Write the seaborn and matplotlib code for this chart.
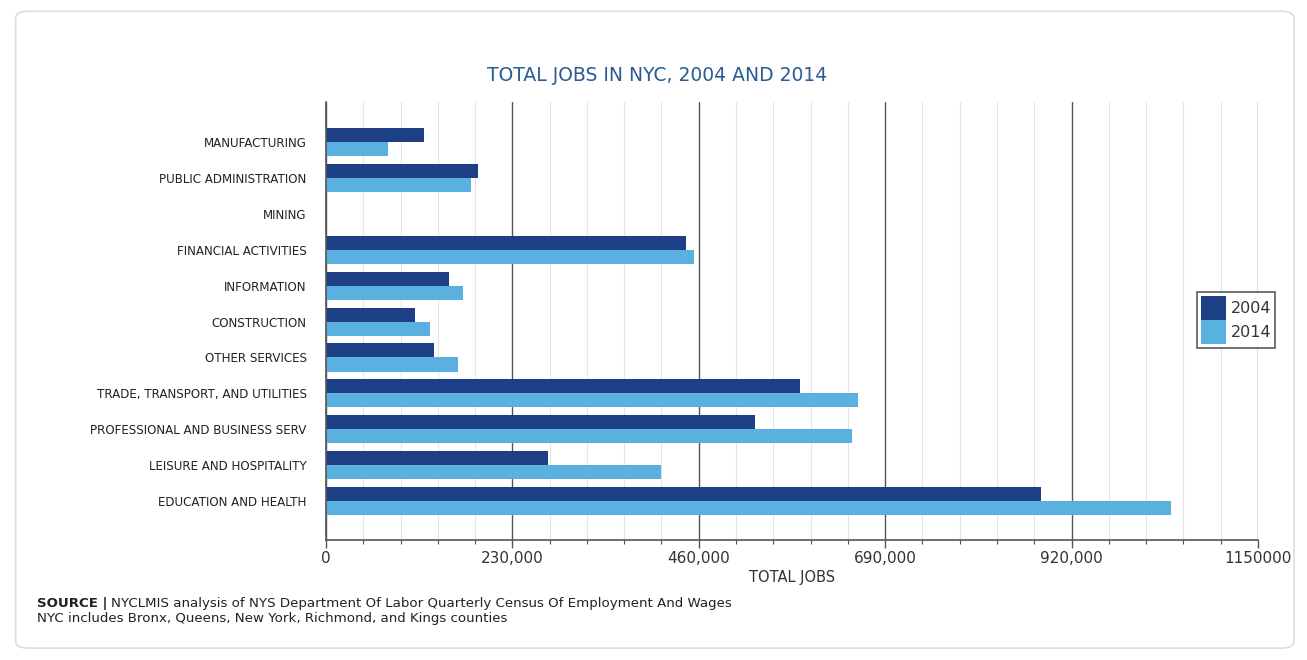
import matplotlib
matplotlib.use("Agg")
import matplotlib.pyplot as plt
from matplotlib.ticker import MultipleLocator
from matplotlib.patches import FancyBboxPatch
import seaborn as sns
import pandas as pd

categories = [
    "MANUFACTURING",
    "PUBLIC ADMINISTRATION",
    "MINING",
    "FINANCIAL ACTIVITIES",
    "INFORMATION",
    "CONSTRUCTION",
    "OTHER SERVICES",
    "TRADE, TRANSPORT, AND UTILITIES",
    "PROFESSIONAL AND BUSINESS SERV",
    "LEISURE AND HOSPITALITY",
    "EDUCATION AND HEALTH",
]
jobs_2004 = [120400, 187400, 0, 444300, 151200, 110100, 132700, 584800, 529400, 274500, 881700]
jobs_2014 = [76400, 178800, 0, 454100, 169700, 128600, 162800, 656000, 649300, 413400, 1043200]
years = ["2004", "2014"]
xtick_values = [0, 230000, 460000, 690000, 920000, 1150000]
xtick_labels = ["0", "230,000", "460,000", "690,000", "920,000", "1150000"]

df = pd.DataFrame({
    "category": categories * 2,
    "jobs": jobs_2004 + jobs_2014,
    "year": [years[0]] * len(categories) + [years[1]] * len(categories),
})

sns.set_theme(style="white")
plt.rcParams["font.family"] = ["DejaVu Sans"]

fig = plt.figure(figsize=(13.07, 6.6), dpi=100)
ax = fig.add_axes([0.2494, 0.1818, 0.7131, 0.6636])

palette = {"2004": "#1c3f86", "2014": "#5ab0de"}
sns.barplot(data=df, y="category", x="jobs", hue="year", order=categories,
            hue_order=years, palette=palette, orient="h", width=0.78,
            saturation=1, linewidth=0, edgecolor="none", ax=ax, legend=True)

ax.set_xlim(0, 1150000)
ax.set_ylim(len(categories) - 1 + 1.08, -1.11)
ax.set_xticks(xtick_values)
ax.set_xticklabels(xtick_labels, fontsize=11, color="#333333")
ax.xaxis.set_minor_locator(MultipleLocator(46000))
ax.grid(axis="x", which="major", color="#555555", linewidth=1.0)
ax.grid(axis="x", which="minor", color="#e4e4e4", linewidth=0.8)
ax.set_axisbelow(True)
ax.tick_params(axis="x", which="major", direction="out", length=6, width=1, color="#555555", bottom=True, pad=2)
ax.tick_params(axis="x", which="minor", direction="out", length=3, width=0.8, color="#555555", bottom=True)
ax.tick_params(axis="y", length=0, pad=14, labelsize=8.6, labelcolor="#222222")

for s in ["top", "right"]:
    ax.spines[s].set_visible(False)
for s in ["left", "bottom"]:
    ax.spines[s].set_color("#555555")
    ax.spines[s].set_linewidth(1.2)

ax.set_ylabel("")
ax.set_xlabel("TOTAL JOBS", fontsize=10.5, color="#333333", labelpad=3)

leg = ax.legend(loc="center left", bbox_to_anchor=(0.916, 0.515), bbox_transform=fig.transFigure,
                frameon=True, fancybox=False, edgecolor="#333333", fontsize=11.5,
                handlelength=1.55, handleheight=1.95, handletextpad=0.3,
                labelspacing=0.0, borderpad=0.25, borderaxespad=0)
leg.get_frame().set_linewidth(1.2)
for t in leg.get_texts():
    t.set_color("#333333")

fig.text(0.503, 0.886, "TOTAL JOBS IN NYC, 2004 AND 2014", ha="center", va="center",
         fontsize=13.5, color="#2a5b94")

src_size = 9.6
t1 = fig.text(0.028, 0.085, "SOURCE |", ha="left", va="center", fontsize=src_size,
              fontweight="bold", color="#222222")
fig.canvas.draw()
bb = t1.get_window_extent(renderer=fig.canvas.get_renderer())
x2 = (bb.x1 + 4) / fig.bbox.width
fig.text(x2, 0.085, "NYCLMIS analysis of NYS Department Of Labor Quarterly Census Of Employment And Wages",
         ha="left", va="center", fontsize=src_size, color="#222222")
fig.text(0.028, 0.063, "NYC includes Bronx, Queens, New York, Richmond, and Kings counties",
         ha="left", va="center", fontsize=src_size, color="#222222")

frame = FancyBboxPatch((0.012, 0.018), 0.978, 0.965, boxstyle="round,pad=0,rounding_size=0.01",
                       transform=fig.transFigure, facecolor="none", edgecolor="#dddddd",
                       linewidth=1.2, zorder=-1)
fig.patches.append(frame)

fig.savefig("out.png", dpi=100)
